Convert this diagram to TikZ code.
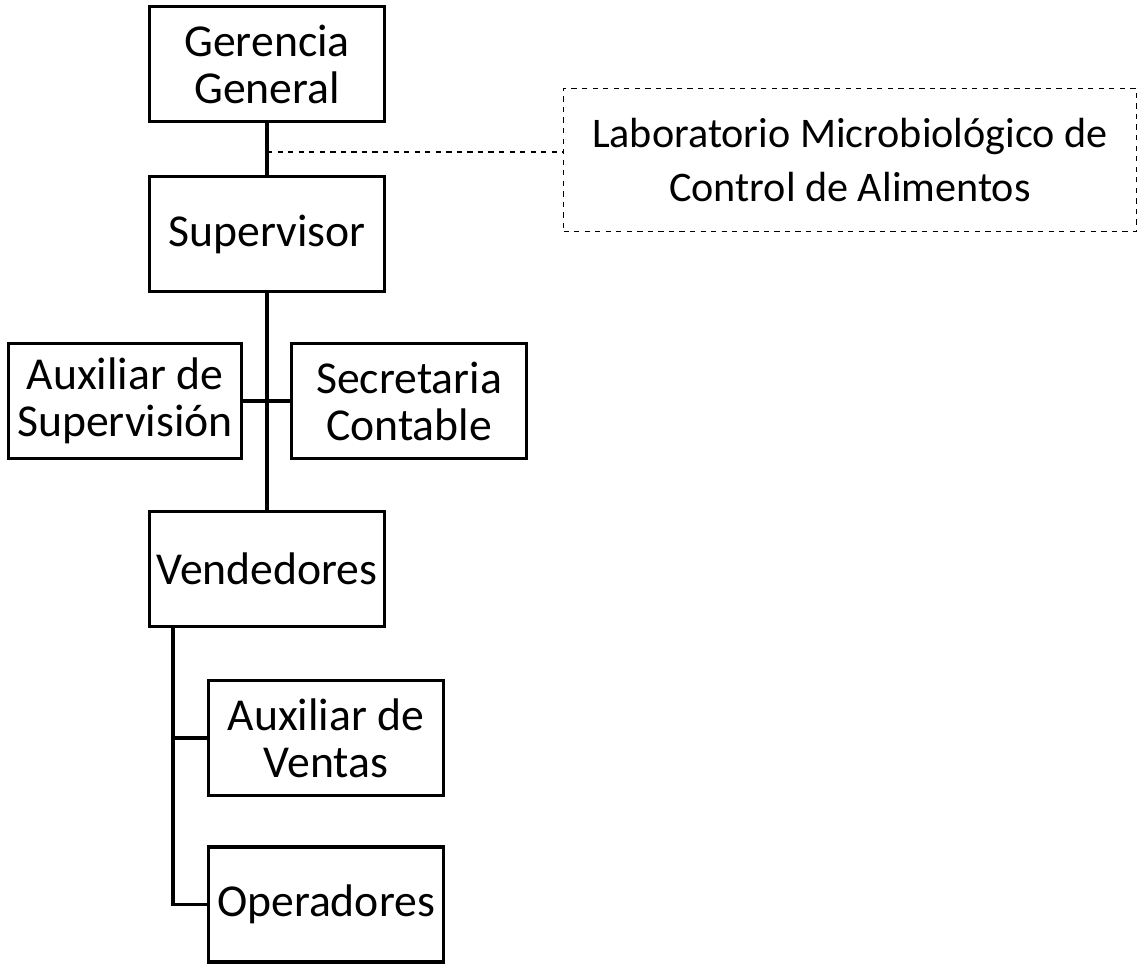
\documentclass[tikz,border=0pt]{standalone}
\usepackage{fontspec}
\setmainfont{Carlito}
\usetikzlibrary{positioning}

\begin{document}
\begin{tikzpicture}[
  cargo/.style={draw=black,line width=2pt,align=center,minimum width=4.7cm,minimum height=2.3cm,inner sep=0pt,font=\fontsize{26}{26.7}\selectfont},
  enlace/.style={line width=2pt},
  asesor/.style={draw=black,dashed,line width=0.8pt,align=center,minimum width=11.46cm,minimum height=2.86cm,inner sep=0pt,font=\fontsize{24}{30.7}\selectfont}
]
\useasboundingbox (0,0) rectangle (22.8,-19.32);
\node[cargo] (Gerencia) at (5.34,-1.28) {Gerencia\\General};
\node[cargo] (Supervisor) at (5.34,-4.68) {Supervisor};
\node[cargo,minimum width=4.66cm] (AuxSup) at (2.5,-8.02) {Auxiliar de\\Supervisión};
\node[cargo] (Secretaria) at (8.18,-8.02) {Secretaria\\Contable};
\node[cargo] (Vendedores) at (5.34,-11.38) {Vendedores};
\node[cargo] (AuxVentas) at (6.52,-14.76) {Auxiliar de\\Ventas};
\node[cargo] (Operadores) at (6.52,-18.09) {Operadores};
\node[asesor] (Laboratorio) at (17.0,-3.2) {Laboratorio Microbiológico de\\Control de Alimentos};

\draw[enlace] (Gerencia) -- (Supervisor);
\coordinate (staff) at (5.34,-3.04);
\draw[dashed,line width=0.8pt] (staff) -- (staff -| Laboratorio.west);

\draw[enlace] (Supervisor) -- (Vendedores);
\draw[enlace] (AuxSup.east) -- (Secretaria.west);

\coordinate (ramal) at (3.46,-12.56);
\draw[enlace] (ramal) |- (Operadores.west);
\draw[enlace] (ramal |- AuxVentas.west) -- (AuxVentas.west);

\end{tikzpicture}
\end{document}
